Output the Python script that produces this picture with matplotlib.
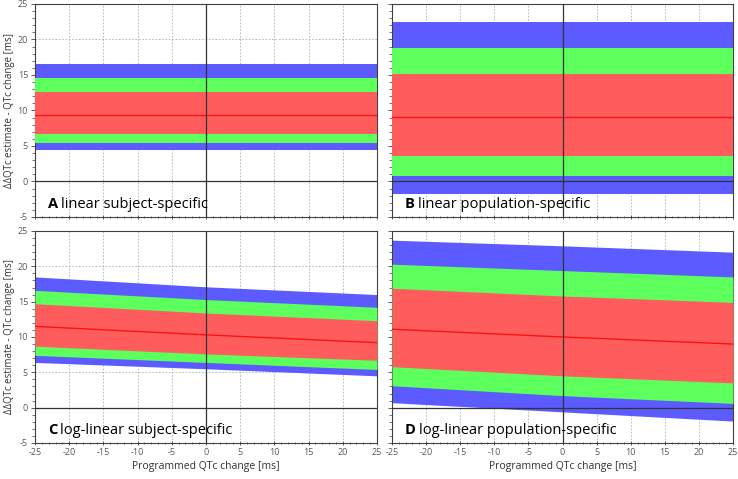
import matplotlib
matplotlib.use('Agg')
import matplotlib.pyplot as plt
from matplotlib.ticker import MultipleLocator
import numpy as np

plt.rcParams['font.family'] = ['Open Sans', 'DejaVu Sans']
plt.rcParams['axes.unicode_minus'] = False

# programmed QTc change where band edges were read
x_pts = [-25, 0, 25]

# A linear subject-specific
a_blue = ([4.4, 4.4, 4.4], [16.55, 16.55, 16.55])
a_green = ([5.4, 5.4, 5.4], [14.6, 14.6, 14.6])
a_red = ([6.7, 6.7, 6.7], [12.6, 12.6, 12.6])
a_mid = [9.4, 9.4, 9.4]

# B linear population-specific
b_blue = ([-1.8, -1.8, -1.8], [22.4, 22.4, 22.4])
b_green = ([0.8, 0.8, 0.8], [18.85, 18.85, 18.85])
b_red = ([3.6, 3.6, 3.6], [15.1, 15.1, 15.1])
b_mid = [9.15, 9.15, 9.15]

# C log-linear subject-specific
c_blue = ([6.4, 5.5, 4.5], [18.5, 17.1, 16.0])
c_green = ([7.4, 6.4, 5.4], [16.6, 15.3, 14.2])
c_red = ([8.7, 7.6, 6.7], [14.7, 13.4, 12.3])
c_mid = [11.5, 10.3, 9.2]

# D log-linear population-specific
d_blue = ([0.7, -0.6, -1.9], [23.7, 22.9, 22.0])
d_green = ([3.1, 1.7, 0.6], [20.3, 19.4, 18.5])
d_red = ([5.8, 4.5, 3.5], [16.9, 15.8, 14.9])
d_mid = [11.1, 10.0, 9.0]

panels = [
    ('A', 'linear subject-specific', a_blue, a_green, a_red, a_mid),
    ('B', 'linear population-specific', b_blue, b_green, b_red, b_mid),
    ('C', 'log-linear subject-specific', c_blue, c_green, c_red, c_mid),
    ('D', 'log-linear population-specific', d_blue, d_green, d_red, d_mid),
]

positions = [
    [0.0474, 0.547, 0.4634, 0.4447],
    [0.5312, 0.547, 0.462, 0.4447],
    [0.0474, 0.0752, 0.4634, 0.4426],
    [0.5312, 0.0752, 0.462, 0.4426],
]

fig = plt.figure(figsize=(7.38, 4.79), dpi=100)
tick_col = '#595959'
labels = []

for i, (letter, name, blue, green, red, mid) in enumerate(panels):
    ax = fig.add_axes(positions[i])
    ax.set_xlim(-25, 25)
    ax.set_ylim(-5, 25)
    ax.fill_between(x_pts, blue[0], blue[1], color='#5b5bff', lw=0, zorder=2)
    ax.fill_between(x_pts, green[0], green[1], color='#5dff5d', lw=0, zorder=3)
    ax.fill_between(x_pts, red[0], red[1], color='#ff5d5d', lw=0, zorder=4)
    ax.plot(x_pts, mid, color='#ff1010', lw=1.0, zorder=5)
    ax.axhline(0, color='#333333', lw=0.9, zorder=6)
    ax.axvline(0, color='#333333', lw=0.9, zorder=6)

    ax.xaxis.set_major_locator(MultipleLocator(5))
    ax.xaxis.set_minor_locator(MultipleLocator(1))
    ax.yaxis.set_major_locator(MultipleLocator(5))
    ax.yaxis.set_minor_locator(MultipleLocator(1))
    ax.grid(True, which='major', color='#b0b0b0', ls=(0, (2, 2)), lw=0.6, zorder=1)
    ax.set_axisbelow(True)
    ax.tick_params(axis='both', which='major', labelsize=6.5, labelcolor=tick_col,
                   color='#404040', length=3, width=0.6, pad=2)
    ax.tick_params(axis='both', which='minor', color='#404040', length=2, width=0.5)
    ax.tick_params(axis='x', which='both', direction='inout')
    ax.tick_params(axis='y', which='both', direction='out')
    for s in ax.spines.values():
        s.set_color('#404040')
        s.set_linewidth(0.8)

    if i % 2 == 1:
        ax.tick_params(axis='y', labelleft=False)
    else:
        ax.set_ylabel('ΔΔQTc estimate - QTc change [ms]', fontsize=7, color='#333333', labelpad=2)
    if i < 2:
        ax.tick_params(axis='x', labelbottom=False)
    else:
        ax.set_xlabel('Programmed QTc change [ms]', fontsize=7.5, color='#333333', labelpad=3)

    t = ax.text(-23.1, -3.2, letter, fontsize=10.5, fontweight='bold', va='center', zorder=7)
    labels.append((ax, t, name))

# put the panel description right after the bold letter
fig.canvas.draw()
renderer = fig.canvas.get_renderer()
for ax, t, name in labels:
    bb = t.get_window_extent(renderer)
    xd, _ = ax.transData.inverted().transform((bb.x1 + 3, bb.y0))
    ax.text(xd, -3.2, name, fontsize=10.5, va='center', zorder=7)

fig.savefig('out.png', dpi=100)
